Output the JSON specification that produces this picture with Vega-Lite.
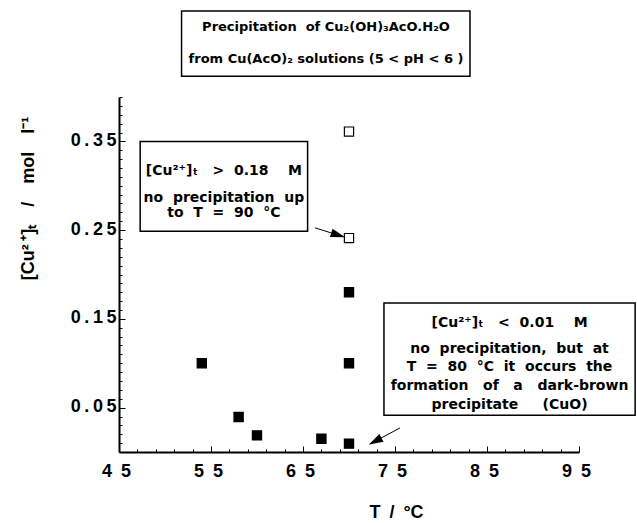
{
  "$schema": "https://vega.github.io/schema/vega-lite/v6.json",
  "width": 460,
  "height": 355,
  "autosize": {"type": "none"},
  "padding": {"left": 119, "top": 97, "right": 58, "bottom": 71},
  "background": "white",
  "config": {"view": {"stroke": null}, "font": "Liberation Sans"},
  "datasets": {
    "pts": [
      {"x": 54, "y": 0.100, "kind": "filled"},
      {"x": 58, "y": 0.0395, "kind": "filled"},
      {"x": 60, "y": 0.0187, "kind": "filled"},
      {"x": 67, "y": 0.015, "kind": "filled"},
      {"x": 70, "y": 0.0094, "kind": "filled"},
      {"x": 70, "y": 0.100, "kind": "filled"},
      {"x": 70, "y": 0.180, "kind": "filled"},
      {"x": 70, "y": 0.241, "kind": "open"},
      {"x": 70, "y": 0.361, "kind": "open"}
    ],
    "boxes": [
      {"x": 47.3, "x2": 65.5, "y": 0.2487, "y2": 0.350},
      {"x": 73.8, "x2": 101.1, "y": 0.0413, "y2": 0.168},
      {"x": 51.8, "x2": 83.15, "y": 0.4233, "y2": 0.4969}
    ],
    "titlenotes": [
      {"x": 67.5, "y": 0.4785, "label": "Precipitation\u00a0\u00a0of\u00a0Cu₂(OH)₃AcO.H₂O"},
      {"x": 67.5, "y": 0.4424, "label": "from\u00a0Cu(AcO)₂\u00a0solutions\u00a0(5\u00a0<\u00a0pH\u00a0<\u00a06\u00a0)"}
    ],
    "boxnotes": [
      {"x": 56.4, "y": 0.3171, "label": "[Cu²⁺]ₜ\u00a0\u00a0\u00a0>\u00a0\u00a00.18\u00a0\u00a0\u00a0\u00a0M"},
      {"x": 56.4, "y": 0.2860, "label": "no\u00a0\u00a0precipitation\u00a0\u00a0up"},
      {"x": 56.4, "y": 0.2688, "label": "to\u00a0\u00a0T\u00a0\u00a0=\u00a0\u00a090\u00a0\u00a0°C"},
      {"x": 87.45, "y": 0.1458, "label": "[Cu²⁺]ₜ\u00a0\u00a0\u00a0<\u00a0\u00a00.01\u00a0\u00a0\u00a0\u00a0M"},
      {"x": 87.45, "y": 0.1165, "label": "no\u00a0\u00a0precipitation,\u00a0\u00a0but\u00a0\u00a0at"},
      {"x": 87.45, "y": 0.0956, "label": "T\u00a0\u00a0=\u00a0\u00a080\u00a0\u00a0°C\u00a0\u00a0it\u00a0\u00a0occurs\u00a0\u00a0the"},
      {"x": 87.45, "y": 0.0748, "label": "formation\u00a0\u00a0\u00a0of\u00a0\u00a0\u00a0a\u00a0\u00a0\u00a0dark-brown"},
      {"x": 87.45, "y": 0.0528, "label": "precipitate\u00a0\u00a0\u00a0\u00a0\u00a0(CuO)"}
    ],
    "arrows": [
      {"x": 66.3, "y": 0.2526, "x2": 69.21, "y2": 0.2432},
      {"x": 75.54, "y": 0.0271, "x2": 72.47, "y2": 0.0101}
    ]
  },
  "encoding": {
    "x": {
      "field": "x", "type": "quantitative",
      "scale": {"domain": [45, 95], "nice": false, "zero": false},
      "axis": {
        "title": "T\u2002/\u2002°C",
        "titleFont": "Liberation Sans", "titleFontWeight": "bold", "titleFontSize": 18, "titleColor": "black",
        "titleX": 277, "titleY": 60, "titleBaseline": "middle", "titleAlign": "center",
        "values": [45, 47, 49, 51, 53, 55, 57, 59, 61, 63, 65, 67, 69, 71, 73, 75, 77, 79, 81, 83, 85, 87, 89, 91, 93, 95],
        "grid": false,
        "domainColor": "black", "domainWidth": 2,
        "tickColor": "black", "tickWidth": 1,
        "tickSize": {"condition": {"test": "datum.value % 10 == 5", "value": -6}, "value": -3},
        "labelExpr": "datum.value % 10 == 5 ? substring(datum.label, 0, 1) + '\u2002' + substring(datum.label, 1) : ''",
        "labelFont": "Liberation Sans", "labelFontWeight": "bold", "labelFontSize": 18, "labelColor": "black",
        "labelPadding": 16, "labelOffset": -3, "labelOverlap": false, "labelFlush": false, "labelBound": false
      }
    },
    "y": {
      "field": "y", "type": "quantitative",
      "scale": {"domain": [0, 0.4], "nice": false, "zero": false},
      "axis": {
        "title": "[Cu²\u2009⁺]ₜ\u2002\u2002/\u2002\u2002mol\u2002\u2002l⁻¹",
        "titleFont": "Liberation Sans", "titleFontWeight": "bold", "titleFontSize": 18, "titleColor": "black",
        "titleX": -91, "titleY": 101, "titleAngle": 270, "titleBaseline": "middle", "titleAlign": "center",
        "values": [0, 0.01, 0.02, 0.03, 0.04, 0.05, 0.06, 0.07, 0.08, 0.09, 0.1, 0.11, 0.12, 0.13, 0.14, 0.15, 0.16, 0.17, 0.18, 0.19, 0.2, 0.21, 0.22, 0.23, 0.24, 0.25, 0.26, 0.27, 0.28, 0.29, 0.3, 0.31, 0.32, 0.33, 0.34, 0.35, 0.36, 0.37, 0.38, 0.39, 0.4],
        "grid": false,
        "domainColor": "black", "domainWidth": 2,
        "tickColor": "black", "tickWidth": 1,
        "tickSize": {"condition": {"test": "round(datum.value * 100) % 10 == 5", "value": -6}, "value": -3},
        "labelExpr": "round(datum.value * 100) % 10 == 5 ? join(split(format(datum.value, '.2f'), ''), '\u2009') : ''",
        "labelFont": "Liberation Sans", "labelFontWeight": "bold", "labelFontSize": 18, "labelColor": "black",
        "labelPadding": 9, "labelOffset": -1, "labelOverlap": false, "labelFlush": false, "labelBound": false
      }
    }
  },
  "layer": [
    {
      "data": {"name": "pts"},
      "mark": {"type": "point", "shape": "square", "size": 85, "stroke": "black", "strokeWidth": 1.2, "opacity": 1},
      "encoding": {
        "fill": {"field": "kind", "type": "nominal", "scale": {"domain": ["filled", "open"], "range": ["black", "white"]}, "legend": null}
      }
    },
    {
      "data": {"name": "boxes"},
      "mark": {"type": "rect", "fill": "white", "stroke": "black", "strokeWidth": 1.5},
      "encoding": {
        "x2": {"field": "x2"},
        "y2": {"field": "y2"}
      }
    },
    {
      "data": {"name": "titlenotes"},
      "mark": {"type": "text", "font": "DejaVu Sans", "fontWeight": "bold", "fontSize": 13, "align": "center", "baseline": "middle"},
      "encoding": {"text": {"field": "label"}}
    },
    {
      "data": {"name": "boxnotes"},
      "mark": {"type": "text", "font": "DejaVu Sans", "fontWeight": "bold", "fontSize": 14, "align": "center", "baseline": "middle"},
      "encoding": {"text": {"field": "label"}}
    },
    {
      "data": {"name": "arrows"},
      "mark": {"type": "rule", "stroke": "black", "strokeWidth": 1},
      "encoding": {
        "x2": {"field": "x2"},
        "y2": {"field": "y2"}
      }
    },
    {
      "data": {"values": [{"x": 69.21, "y": 0.2432}]},
      "mark": {"type": "point", "shape": "M0,0L-2,-0.6L-2,0.6Z", "filled": true, "fill": "black", "stroke": "black", "size": 100, "angle": 17.5, "opacity": 1}
    },
    {
      "data": {"values": [{"x": 72.47, "y": 0.0101}]},
      "mark": {"type": "point", "shape": "M0,0L-2,-0.6L-2,0.6Z", "filled": true, "fill": "black", "stroke": "black", "size": 100, "angle": 152.1, "opacity": 1}
    }
  ]
}
